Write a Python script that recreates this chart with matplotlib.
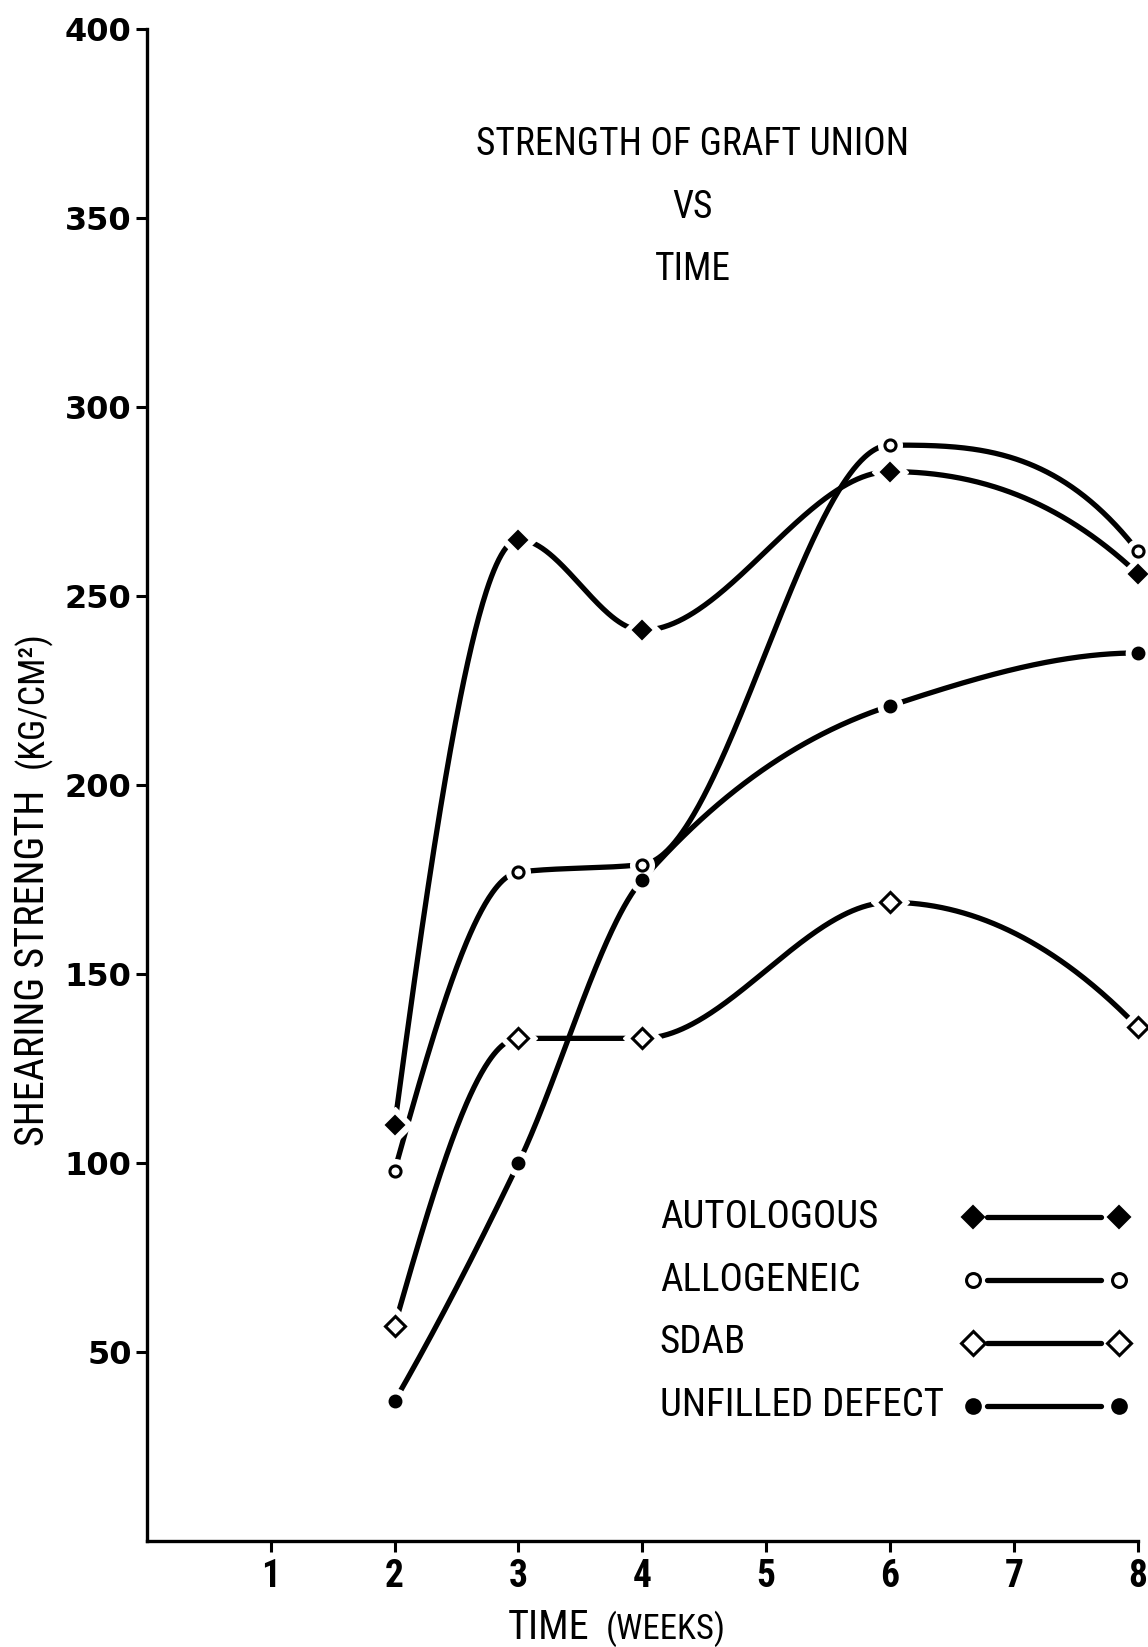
import matplotlib
matplotlib.use("Agg")
import matplotlib.pyplot as plt
import numpy as np

# Werte (Wochen, kg/cm^2)
weeks = [2, 3, 4, 6, 8]
autologous = [110, 265, 241, 283, 256]
allogeneic = [98, 177, 179, 290, 262]
sdab = [57, 133, 133, 169, 136]
unfilled = [37, 100, 175, 221, 235]

series_names = ["AUTOLOGOUS", "ALLOGENEIC", "SDAB", "UNFILLED DEFECT"]
x_ticks = [1, 2, 3, 4, 5, 6, 7, 8]
y_ticks = [50, 100, 150, 200, 250, 300, 350, 400]

# schmale Schrift; faellt auf DejaVu Sans Condensed zurueck
NARROW = dict(family=["Roboto Condensed", "DejaVu Sans"], stretch="condensed")


def pchip(x, y, xs):
    # monotone kubische Hermite-Interpolation (wie von Hand mit Kurvenlineal)
    x = np.asarray(x, float)
    y = np.asarray(y, float)
    h = np.diff(x)
    d = np.diff(y) / h
    n = len(x)
    m = np.zeros(n)
    for k in range(1, n - 1):
        if d[k - 1] * d[k] > 0:
            w1 = 2 * h[k] + h[k - 1]
            w2 = h[k] + 2 * h[k - 1]
            m[k] = (w1 + w2) / (w1 / d[k - 1] + w2 / d[k])

    def end_slope(h0, h1, d0, d1):
        s = ((2 * h0 + h1) * d0 - h0 * d1) / (h0 + h1)
        if np.sign(s) != np.sign(d0):
            return 0.0
        if np.sign(d0) != np.sign(d1) and abs(s) > 3 * abs(d0):
            return 3 * d0
        return s

    m[0] = end_slope(h[0], h[1], d[0], d[1])
    m[-1] = end_slope(h[-1], h[-2], d[-1], d[-2])

    idx = np.clip(np.searchsorted(x, xs) - 1, 0, n - 2)
    t = (xs - x[idx]) / h[idx]
    h00 = 2 * t**3 - 3 * t**2 + 1
    h10 = t**3 - 2 * t**2 + t
    h01 = -2 * t**3 + 3 * t**2
    h11 = t**3 - t**2
    return (h00 * y[idx] + h10 * h[idx] * m[idx]
            + h01 * y[idx + 1] + h11 * h[idx] * m[idx + 1])


fig = plt.figure(figsize=(11.48, 16.47), dpi=100)
ax = fig.add_axes([0.128, 0.0644, 0.863, 0.9177])

styles = [
    dict(marker="D", ms=9.5, mfc="black", mec="black", mew=1.5),
    dict(marker="o", ms=8, mfc="white", mec="black", mew=2.2),
    dict(marker="D", ms=10, mfc="white", mec="black", mew=2.2),
    dict(marker="o", ms=8.5, mfc="black", mec="black", mew=1.5),
]
data = [autologous, allogeneic, sdab, unfilled]

xs = np.linspace(weeks[0], weeks[-1], 600)
for vals in data:
    ax.plot(xs, pchip(weeks, vals, xs), color="black", lw=3.8,
            solid_capstyle="round", zorder=2)

# weisse Aussparung um die Punkte, dann die Punkte selbst
for vals, st in zip(data, styles):
    ax.plot(weeks, vals, ls="none", marker=st["marker"], ms=st["ms"] + 9,
            mfc="white", mec="white", zorder=3, clip_on=False)
for vals, st in zip(data, styles):
    ax.plot(weeks, vals, ls="none", zorder=4, clip_on=False, **st)

ax.set_xlim(0, 8)
ax.set_ylim(0, 400)
ax.set_xticks(x_ticks)
ax.set_yticks(y_ticks)
ax.set_xticklabels([str(v) for v in x_ticks], fontweight="bold",
                   fontsize=27, **NARROW)
ax.set_yticklabels([str(v) for v in y_ticks], family="DejaVu Sans",
                   fontweight="bold", fontsize=23)
ax.tick_params(axis="both", direction="out", length=8, width=2.2,
               colors="black")
ax.tick_params(axis="y", pad=3)
ax.tick_params(axis="x", pad=4)
for side in ["top", "right"]:
    ax.spines[side].set_visible(False)
for side in ["left", "bottom"]:
    ax.spines[side].set_linewidth(2.4)

# Titel
title_lines = ["STRENGTH OF GRAFT UNION", "VS", "TIME"]
for i, line in enumerate(title_lines):
    ax.text(0.551, 0.924 - i * 0.0415, line, transform=ax.transAxes,
            ha="center", va="center", fontsize=27, **NARROW)

# Legende: Text links, Symbol rechts
leg_y = [0.214, 0.1725, 0.131, 0.0895]
for name, st, y in zip(series_names, styles, leg_y):
    ax.text(0.5177, y, name, transform=ax.transAxes, ha="left", va="center",
            fontsize=28, **NARROW)
    ax.plot([0.8476, 0.9627], [y, y], transform=ax.transAxes, color="black",
            lw=3.8, solid_capstyle="round", clip_on=False)
    leg_st = dict(st)
    leg_st["ms"] = st["ms"] + 2
    ax.plot([0.8335, 0.9808], [y, y], transform=ax.transAxes, ls="none",
            clip_on=False, **leg_st)

# Achsenbeschriftungen
fig.text(0.028, 0.4123, "SHEARING STRENGTH", rotation=90, ha="center",
         va="center", fontsize=29, **NARROW)
fig.text(0.028, 0.575, "(KG/CM²)", rotation=90, ha="center", va="center",
         fontsize=26, **NARROW)
fig.text(0.5135, 0.005, "TIME", ha="right", va="baseline", fontsize=29,
         **NARROW)
fig.text(0.528, 0.005, "(WEEKS)", ha="left", va="baseline", fontsize=25,
         **NARROW)

fig.savefig("out.png", dpi=100, facecolor="white")
